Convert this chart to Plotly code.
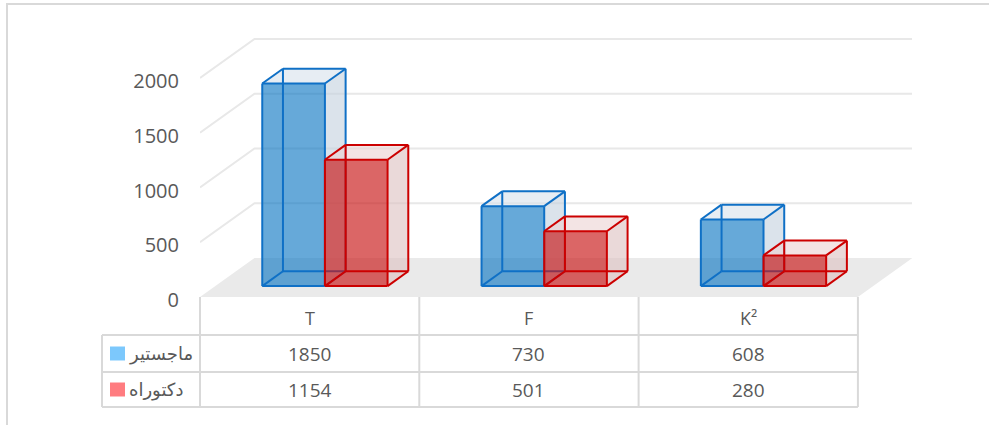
import plotly.graph_objects as go

# ---- data ----
categories = ["T", "F", "K²"]
series_names = ["ماجستير", "دكتوراه"]
masters = [1850, 730, 608]
doctorate = [1154, 501, 280]
y_ticks = [0, 500, 1000, 1500, 2000]

# ---- geometry / style ----
W, H = 989, 425
L, R, T, B = 200, 912, 20, 297          # plot area in pixels
CAT_PX = 219.3                           # pixels per category
VAL_PX = 0.1095                          # pixels per value unit
XMIN = -0.5
XMAX = XMIN + (R - L) / CAT_PX
YMAX = (B - T) / VAL_PX
DX = 54.5 / CAT_PX                       # full floor depth, x shift (data units)
DY = 39.0 / VAL_PX                       # full floor depth, y shift (data units)
BAR_W = 1 / 3.5                          # gap width 150%
D0, D1 = 0.28, 0.66                      # bar depth extent

TXT = "#595959"
GRID = "#E8E8E8"
TABLE = "#D9D9D9"
FONT = "Open Sans"

styles = [
    dict(edge="#0F70C6", front="rgba(0,112,192,0.6)", top="rgba(215,225,235,0.6)",
         side="rgba(195,208,222,0.6)", key="#7CC8FC"),
    dict(edge="#CC0000", front="rgba(200,20,20,0.65)", top="rgba(235,210,210,0.6)",
         side="rgba(220,192,192,0.6)", key="#FF7C80"),
]


def P(x, y, d):
    return x + d * DX, y + d * DY


def poly(pts):
    xs = [p[0] for p in pts] + [pts[0][0]]
    ys = [p[1] for p in pts] + [pts[0][1]]
    return xs, ys


def px2paper_x(px):
    return (px - L) / (R - L)


def px2paper_y(py):
    return (B - py) / (B - T)


def cat2paper(x):
    return (x - XMIN) / (XMAX - XMIN)


fig = go.Figure()

# floor
fx, fy = poly([P(-0.5, 0, 0), P(2.5, 0, 0), P(2.5, 0, 1), P(-0.5, 0, 1)])
fig.add_trace(go.Scatter(x=fx, y=fy, mode="lines", fill="toself", fillcolor="#EAEAEA",
                         line=dict(width=0), hoverinfo="skip", showlegend=False))

# wall gridlines
gx, gy = [], []
for v in y_ticks[1:]:
    a, b, c = P(-0.5, v, 0), P(-0.5, v, 1), P(2.5, v, 1)
    gx += [a[0], b[0], c[0], None]
    gy += [a[1], b[1], c[1], None]
fig.add_trace(go.Scatter(x=gx, y=gy, mode="lines", line=dict(color=GRID, width=2),
                         hoverinfo="skip", showlegend=False))

# 3D bars
for s, vals in enumerate([masters, doctorate]):
    st = styles[s]
    for i, v in enumerate(vals):
        x0 = i - BAR_W + s * BAR_W
        x1 = x0 + BAR_W
        faces = [
            ([P(x0, 0, D0), P(x1, 0, D0), P(x1, v, D0), P(x0, v, D0)], st["front"]),
            ([P(x0, v, D0), P(x1, v, D0), P(x1, v, D1), P(x0, v, D1)], st["top"]),
            ([P(x1, 0, D0), P(x1, 0, D1), P(x1, v, D1), P(x1, v, D0)], st["side"]),
        ]
        for pts, col in faces:
            xs, ys = poly(pts)
            fig.add_trace(go.Scatter(x=xs, y=ys, mode="lines", fill="toself", fillcolor=col,
                                     line=dict(width=0), hoverinfo="skip", showlegend=False))
        # wireframe edges
        ex, ey = [], []
        corners = {}
        for cx in (x0, x1):
            for cy in (0, v):
                for cd in (D0, D1):
                    corners[(cx, cy, cd)] = P(cx, cy, cd)
        edges = []
        for cy in (0, v):
            for cd in (D0, D1):
                edges.append(((x0, cy, cd), (x1, cy, cd)))
        for cx in (x0, x1):
            for cd in (D0, D1):
                edges.append(((cx, 0, cd), (cx, v, cd)))
        for cx in (x0, x1):
            for cy in (0, v):
                edges.append(((cx, cy, D0), (cx, cy, D1)))
        for a, b in edges:
            pa, pb = corners[a], corners[b]
            ex += [pa[0], pb[0], None]
            ey += [pa[1], pb[1], None]
        fig.add_trace(go.Scatter(x=ex, y=ey, mode="lines", line=dict(color=st["edge"], width=2),
                                 hoverinfo="skip", showlegend=False))

shapes = []
ann = []

# chart border (top and left)
shapes.append(dict(type="line", xref="paper", yref="paper",
                   x0=px2paper_x(6), x1=px2paper_x(989), y0=px2paper_y(4), y1=px2paper_y(4),
                   line=dict(color=TABLE, width=2)))
shapes.append(dict(type="line", xref="paper", yref="paper",
                   x0=px2paper_x(7), x1=px2paper_x(7), y0=px2paper_y(4), y1=px2paper_y(425),
                   line=dict(color=TABLE, width=2)))

# data table
row_tops = [297, 335, 372, 407]
leg_left = 102
edges_x = [cat2paper(e) for e in (-0.5, 0.5, 1.5, 2.5)]
for xp in edges_x:
    shapes.append(dict(type="line", xref="paper", yref="paper", x0=xp, x1=xp,
                       y0=px2paper_y(row_tops[0]), y1=px2paper_y(row_tops[3]),
                       line=dict(color=TABLE, width=2)))
shapes.append(dict(type="line", xref="paper", yref="paper",
                   x0=px2paper_x(leg_left), x1=px2paper_x(leg_left),
                   y0=px2paper_y(row_tops[1]), y1=px2paper_y(row_tops[3]),
                   line=dict(color=TABLE, width=2)))
for ry in row_tops[1:]:
    shapes.append(dict(type="line", xref="paper", yref="paper",
                       x0=px2paper_x(leg_left), x1=edges_x[-1],
                       y0=px2paper_y(ry), y1=px2paper_y(ry),
                       line=dict(color=TABLE, width=2)))

# header labels
for i, c in enumerate(categories):
    ann.append(dict(x=cat2paper(i), y=px2paper_y(318), xref="paper", yref="paper", text=c,
                    showarrow=False, xanchor="center", yanchor="middle",
                    font=dict(family=FONT, size=18, color=TXT)))

# rows
for s, vals in enumerate([masters, doctorate]):
    yc = (row_tops[s + 1] + row_tops[s + 2]) / 2
    for i, v in enumerate(vals):
        ann.append(dict(x=cat2paper(i), y=px2paper_y(yc), xref="paper", yref="paper",
                        text=str(v), showarrow=False, xanchor="center", yanchor="middle",
                        font=dict(family=FONT, size=19, color=TXT)))
    shapes.append(dict(type="rect", xref="paper", yref="paper",
                       x0=px2paper_x(110), x1=px2paper_x(125),
                       y0=px2paper_y(yc - 7), y1=px2paper_y(yc + 7),
                       fillcolor=styles[s]["key"], line=dict(width=0)))
    ann.append(dict(x=px2paper_x(127), y=px2paper_y(yc), xref="paper", yref="paper",
                    text=series_names[s], showarrow=False, xanchor="left", yanchor="middle",
                    font=dict(family="DejaVu Sans", size=18, color=TXT)))

fig.update_layout(
    width=W, height=H,
    margin=dict(l=L, r=W - R, t=T, b=H - B, pad=0),
    paper_bgcolor="white", plot_bgcolor="white",
    xaxis=dict(range=[XMIN, XMAX], visible=False, fixedrange=True),
    yaxis=dict(range=[0, YMAX], tickvals=y_ticks, ticktext=[str(t) for t in y_ticks],
               showgrid=False, zeroline=False, showline=False, ticks="",
               tickfont=dict(family=FONT, size=20, color=TXT),
               ticklabelstandoff=20, ticklabelshift=3, fixedrange=True),
    shapes=shapes, annotations=ann, showlegend=False,
)

fig.write_html("out.html", config={"displayModeBar": False},
               post_script="document.body.style.margin='0';document.body.style.overflow='hidden';")
